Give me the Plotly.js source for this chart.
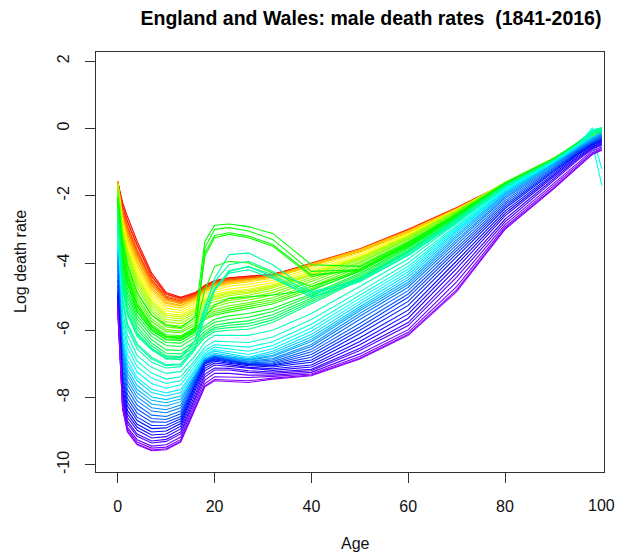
<!DOCTYPE html>
<html>
<head>
<meta charset="utf-8">
<script src="https://cdn.plot.ly/plotly-3.0.1.min.js"></script>
<style>html,body{margin:0;padding:0;background:#fff;}#chart{width:619px;height:555px;}</style>
</head>
<body>
<div id="chart"></div>
<script>
const ages = [0,1,2,4,7,10,13,16,18,20,23,27,32,40,50,60,70,80,90,95,98,100];

// Years drawn (subset of 1841-2016, incl. war years)
const years = [1841,1844,1847,1850,1853,1856,1859,1862,1865,1868,1871,1874,1877,1880,1883,1886,
  1889,1892,1895,1898,1901,1904,1907,1910,1913,1914,1915,1916,1917,1918,1919,1922,1925,1928,
  1931,1934,1937,1940,1941,1942,1943,1944,1946,1949,1952,1955,1958,1961,1964,1967,1970,1973,
  1976,1979,1982,1985,1988,1991,1994,1997,2000,2003,2006,2009,2012,2015,2016];

// Log death rates (one row per year, one value per age)
const logRates = [
 [-1.60,-2.20,-2.62,-3.35,-4.30,-4.88,-5.02,-4.88,-4.66,-4.52,-4.44,-4.40,-4.33,-4.05,-3.62,-3.05,-2.38,-1.68,-1.02,-0.66,-0.42,-0.38],
 [-1.63,-2.32,-2.78,-3.48,-4.40,-4.93,-5.06,-4.90,-4.69,-4.54,-4.45,-4.41,-4.34,-4.03,-3.61,-3.03,-2.38,-1.66,-1.00,-0.63,-0.37,-0.33],
 [-1.57,-2.30,-2.75,-3.45,-4.38,-4.92,-5.05,-4.93,-4.72,-4.57,-4.47,-4.43,-4.36,-4.00,-3.58,-3.00,-2.35,-1.64,-0.97,-0.60,-0.34,-0.29],
 [-1.64,-2.48,-2.95,-3.66,-4.52,-5.02,-5.13,-4.96,-4.73,-4.59,-4.49,-4.46,-4.39,-4.08,-3.66,-3.08,-2.42,-1.70,-1.04,-0.68,-0.40,-0.34],
 [-1.61,-2.45,-2.90,-3.60,-4.48,-4.98,-5.10,-4.94,-4.71,-4.57,-4.47,-4.44,-4.36,-4.05,-3.62,-3.05,-2.40,-1.68,-1.02,-0.65,-0.38,-0.30],
 [-1.66,-2.58,-3.05,-3.75,-4.58,-5.05,-5.15,-4.98,-4.74,-4.60,-4.50,-4.45,-4.36,-4.04,-3.63,-3.08,-2.42,-1.71,-1.04,-0.65,-0.40,-0.28],
 [-1.62,-2.55,-3.02,-3.72,-4.56,-5.06,-5.17,-5.00,-4.77,-4.63,-4.53,-4.48,-4.39,-4.06,-3.64,-3.07,-2.41,-1.70,-1.02,-0.63,-0.36,-0.27],
 [-1.63,-2.64,-3.13,-3.83,-4.64,-5.10,-5.20,-5.02,-4.78,-4.64,-4.54,-4.48,-4.39,-4.04,-3.61,-3.05,-2.40,-1.68,-1.00,-0.61,-0.33,-0.25],
 [-1.59,-2.58,-3.10,-3.84,-4.67,-5.11,-5.21,-5.03,-4.79,-4.65,-4.55,-4.48,-4.40,-4.03,-3.60,-3.04,-2.39,-1.67,-0.99,-0.59,-0.31,-0.23],
 [-1.63,-2.66,-3.20,-3.93,-4.74,-5.17,-5.26,-5.06,-4.82,-4.68,-4.58,-4.50,-4.41,-4.04,-3.61,-3.05,-2.40,-1.66,-0.97,-0.57,-0.29,-0.21],
 [-1.62,-2.70,-3.25,-3.98,-4.78,-5.20,-5.28,-5.08,-4.84,-4.70,-4.60,-4.52,-4.42,-4.05,-3.62,-3.05,-2.39,-1.65,-0.96,-0.56,-0.28,-0.20],
 [-1.66,-2.76,-3.33,-4.06,-4.85,-5.26,-5.34,-5.12,-4.87,-4.74,-4.63,-4.56,-4.45,-4.09,-3.65,-3.08,-2.41,-1.66,-0.96,-0.56,-0.29,-0.20],
 [-1.69,-2.83,-3.42,-4.16,-4.94,-5.34,-5.41,-5.18,-4.93,-4.81,-4.69,-4.63,-4.51,-4.15,-3.70,-3.12,-2.43,-1.66,-0.95,-0.56,-0.30,-0.19],
 [-1.71,-2.90,-3.50,-4.25,-5.02,-5.42,-5.48,-5.25,-5.00,-4.87,-4.77,-4.71,-4.58,-4.22,-3.76,-3.15,-2.42,-1.62,-0.90,-0.51,-0.27,-0.18],
 [-1.73,-2.95,-3.56,-4.33,-5.10,-5.50,-5.55,-5.33,-5.06,-4.94,-4.84,-4.78,-4.64,-4.28,-3.81,-3.18,-2.44,-1.63,-0.91,-0.50,-0.26,-0.16],
 [-1.70,-2.95,-3.58,-4.38,-5.15,-5.55,-5.60,-5.38,-5.10,-4.98,-4.88,-4.82,-4.68,-4.32,-3.84,-3.20,-2.45,-1.63,-0.92,-0.50,-0.25,-0.15],
 [-1.69,-2.97,-3.62,-4.45,-5.21,-5.61,-5.66,-5.42,-5.15,-5.02,-4.92,-4.86,-4.70,-4.34,-3.85,-3.20,-2.43,-1.61,-0.89,-0.49,-0.23,-0.13],
 [-1.68,-3.00,-3.68,-4.53,-5.28,-5.68,-5.72,-5.48,-5.20,-5.08,-4.97,-4.90,-4.74,-4.37,-3.87,-3.21,-2.43,-1.61,-0.88,-0.48,-0.22,-0.12],
 [-1.70,-3.06,-3.76,-4.62,-5.37,-5.75,-5.80,-5.55,-5.27,-5.15,-5.04,-4.96,-4.80,-4.43,-3.91,-3.24,-2.45,-1.62,-0.90,-0.48,-0.22,-0.10],
 [-1.72,-3.14,-3.85,-4.72,-5.45,-5.83,-5.87,-5.63,-5.35,-5.23,-5.11,-5.03,-4.88,-4.49,-3.96,-3.27,-2.48,-1.62,-0.91,-0.49,-0.22,-0.10],
 [-1.78,-3.25,-3.98,-4.85,-5.55,-5.90,-5.95,-5.70,-5.42,-5.30,-5.18,-5.10,-4.95,-4.55,-4.00,-3.30,-2.50,-1.63,-0.92,-0.50,-0.22,-0.10],
 [-1.88,-3.38,-4.12,-5.00,-5.66,-5.98,-6.02,-5.78,-5.50,-5.38,-5.27,-5.18,-5.03,-4.63,-4.06,-3.35,-2.53,-1.65,-0.94,-0.50,-0.21,-0.09],
 [-1.97,-3.47,-4.22,-5.10,-5.74,-6.04,-6.07,-5.84,-5.57,-5.44,-5.34,-5.24,-5.10,-4.70,-4.12,-3.39,-2.56,-1.66,-0.95,-0.50,-0.20,-0.08],
 [-2.03,-3.53,-4.32,-5.20,-5.83,-6.13,-6.16,-5.93,-5.63,-5.50,-5.40,-5.30,-5.16,-4.76,-4.18,-3.41,-2.57,-1.66,-0.95,-0.48,-0.18,-0.06],
 [-2.08,-3.60,-4.40,-5.26,-5.88,-6.18,-6.20,-5.96,-5.68,-5.55,-5.46,-5.36,-5.22,-4.82,-4.22,-3.44,-2.59,-1.66,-0.95,-0.47,-0.16,-0.05],
 [-2.15,-3.65,-4.45,-5.30,-5.90,-6.20,-6.22,-5.98,-4.80,-4.10,-3.95,-4.00,-4.30,-4.70,-4.22,-3.45,-2.60,-1.66,-0.94,-0.46,-0.15,-0.05],
 [-2.10,-3.50,-4.35,-5.25,-5.88,-6.18,-6.20,-5.90,-3.80,-3.25,-3.15,-3.25,-3.50,-4.40,-4.18,-3.42,-2.56,-1.62,-0.90,-0.44,-0.12,-0.04],
 [-2.20,-3.75,-4.55,-5.38,-5.95,-6.22,-6.25,-6.00,-3.55,-3.00,-2.95,-3.05,-3.30,-4.25,-4.20,-3.48,-2.62,-1.66,-0.92,-0.45,-0.10,-0.02],
 [-2.25,-3.80,-4.60,-5.45,-6.00,-6.28,-6.30,-6.05,-3.70,-3.18,-3.10,-3.20,-3.45,-4.35,-4.22,-3.50,-2.64,-1.68,-0.94,-0.44,-0.12,-0.04],
 [-2.08,-3.35,-4.05,-4.90,-5.55,-5.85,-5.92,-5.60,-3.35,-2.88,-2.84,-2.92,-3.12,-4.05,-4.10,-3.38,-2.55,-1.62,-0.90,-0.42,-0.08,0.00],
 [-2.22,-3.85,-4.62,-5.45,-6.00,-6.28,-6.30,-6.05,-5.60,-5.25,-5.05,-5.00,-4.95,-4.80,-4.25,-3.48,-2.60,-1.65,-0.92,-0.45,-0.13,-0.04],
 [-2.33,-3.98,-4.76,-5.56,-6.08,-6.36,-6.38,-6.12,-5.86,-5.67,-5.57,-5.50,-5.35,-4.92,-4.31,-3.53,-2.62,-1.66,-0.92,-0.45,-0.14,-0.04],
 [-2.42,-4.10,-4.90,-5.66,-6.18,-6.45,-6.48,-6.21,-5.94,-5.76,-5.68,-5.61,-5.44,-4.98,-4.36,-3.56,-2.63,-1.67,-0.92,-0.44,-0.12,-0.02],
 [-2.50,-4.22,-5.02,-5.77,-6.28,-6.58,-6.60,-6.32,-6.03,-5.85,-5.78,-5.72,-5.54,-5.05,-4.41,-3.61,-2.66,-1.69,-0.93,-0.45,-0.11,-0.01],
 [-2.58,-4.35,-5.15,-5.88,-6.38,-6.68,-6.70,-6.40,-6.10,-5.92,-5.85,-5.80,-5.62,-5.10,-4.45,-3.64,-2.68,-1.70,-0.94,-0.45,-0.10,0.00],
 [-2.65,-4.46,-5.28,-5.97,-6.46,-6.76,-6.78,-6.47,-6.15,-5.97,-5.92,-5.88,-5.69,-5.16,-4.48,-3.66,-2.70,-1.71,-0.95,-0.46,-0.08,0.01],
 [-2.72,-4.58,-5.40,-6.07,-6.53,-6.84,-6.87,-6.54,-6.22,-6.04,-6.00,-5.97,-5.77,-5.22,-4.51,-3.69,-2.73,-1.72,-0.95,-0.46,-0.05,0.02],
 [-2.75,-4.70,-5.48,-6.12,-6.55,-6.80,-6.80,-6.30,-5.40,-4.75,-4.25,-4.10,-4.35,-4.95,-4.45,-3.68,-2.70,-1.70,-0.95,-0.48,-0.10,-0.02],
 [-2.80,-4.80,-5.55,-6.18,-6.58,-6.85,-6.82,-6.28,-5.30,-4.55,-4.05,-3.95,-4.25,-4.90,-4.48,-3.70,-2.72,-1.72,-0.96,-0.50,-0.60,-0.05],
 [-2.95,-5.05,-5.80,-6.40,-6.80,-7.02,-7.00,-6.50,-5.55,-4.80,-4.30,-4.20,-4.45,-5.00,-4.55,-3.75,-2.76,-1.74,-0.98,-0.52,-0.08,0.02],
 [-3.00,-5.10,-5.85,-6.45,-6.85,-7.05,-7.02,-6.52,-5.60,-4.82,-4.22,-4.12,-4.40,-5.02,-4.56,-3.76,-2.78,-1.75,-0.98,-0.50,-0.12,0.00],
 [-3.05,-5.20,-5.95,-6.55,-6.95,-7.12,-7.08,-6.58,-5.35,-4.45,-3.75,-3.70,-4.05,-4.85,-4.55,-3.78,-2.80,-1.76,-1.00,-0.52,-0.15,-0.02],
 [-3.20,-5.45,-6.15,-6.75,-7.10,-7.28,-7.22,-6.75,-6.35,-6.15,-6.15,-6.15,-6.00,-5.50,-4.70,-3.88,-2.82,-1.76,-0.98,-0.50,-0.30,-0.05],
 [-3.35,-5.65,-6.35,-6.92,-7.27,-7.45,-7.38,-6.88,-6.50,-6.32,-6.34,-6.36,-6.20,-5.68,-4.85,-4.00,-2.88,-1.79,-1.00,-0.52,-0.35,-0.06],
 [-3.44,-5.80,-6.52,-7.08,-7.42,-7.58,-7.50,-6.98,-6.60,-6.43,-6.46,-6.50,-6.34,-5.82,-4.96,-4.10,-2.93,-1.82,-1.01,-0.53,-0.40,-1.70],
 [-3.49,-6.00,-6.72,-7.24,-7.58,-7.72,-7.62,-7.07,-6.68,-6.50,-6.56,-6.62,-6.45,-5.93,-5.05,-4.18,-2.97,-1.84,-1.02,-0.55,0.02,-0.60],
 [-3.56,-6.18,-6.90,-7.40,-7.75,-7.86,-7.76,-7.16,-6.74,-6.57,-6.64,-6.72,-6.55,-6.03,-5.14,-4.26,-3.02,-1.86,-1.03,-0.56,-0.20,-1.20],
 [-3.62,-6.30,-7.02,-7.50,-7.85,-7.95,-7.85,-7.22,-6.78,-6.62,-6.70,-6.80,-6.62,-6.12,-5.22,-4.34,-3.06,-1.88,-1.04,-0.56,-0.25,-0.30],
 [-3.70,-6.40,-7.15,-7.64,-7.98,-8.06,-7.95,-7.27,-6.83,-6.68,-6.75,-6.84,-6.68,-6.20,-5.30,-4.42,-3.12,-1.92,-1.05,-0.57,-0.28,-0.08],
 [-3.77,-6.49,-7.26,-7.76,-8.08,-8.15,-8.04,-7.31,-6.86,-6.73,-6.79,-6.87,-6.74,-6.27,-5.36,-4.50,-3.18,-1.95,-1.07,-0.59,-0.30,-0.12],
 [-3.83,-6.58,-7.37,-7.87,-8.19,-8.25,-8.12,-7.34,-6.88,-6.75,-6.81,-6.89,-6.78,-6.33,-5.42,-4.57,-3.24,-1.99,-1.09,-0.60,-0.32,-0.16],
 [-3.94,-6.72,-7.50,-7.98,-8.30,-8.36,-8.22,-7.38,-6.89,-6.77,-6.83,-6.92,-6.84,-6.42,-5.50,-4.64,-3.31,-2.04,-1.12,-0.62,-0.35,-0.19],
 [-4.05,-6.85,-7.62,-8.10,-8.40,-8.45,-8.30,-7.40,-6.90,-6.78,-6.85,-6.94,-6.88,-6.48,-5.58,-4.72,-3.38,-2.08,-1.15,-0.64,-0.38,-0.20],
 [-4.20,-7.00,-7.76,-8.22,-8.52,-8.56,-8.40,-7.45,-6.91,-6.79,-6.87,-6.97,-6.93,-6.56,-5.68,-4.82,-3.46,-2.14,-1.18,-0.66,-0.40,-0.23],
 [-4.35,-7.15,-7.90,-8.34,-8.62,-8.65,-8.48,-7.50,-6.93,-6.81,-6.89,-6.99,-6.97,-6.64,-5.80,-4.92,-3.55,-2.20,-1.21,-0.69,-0.43,-0.26],
 [-4.50,-7.30,-8.02,-8.46,-8.72,-8.73,-8.56,-7.54,-6.95,-6.82,-6.90,-7.00,-7.00,-6.72,-5.90,-5.02,-3.63,-2.26,-1.24,-0.71,-0.44,-0.29],
 [-4.65,-7.44,-8.14,-8.58,-8.83,-8.82,-8.63,-7.58,-6.97,-6.85,-6.92,-7.01,-7.03,-6.80,-6.00,-5.14,-3.72,-2.32,-1.27,-0.74,-0.46,-0.32],
 [-4.80,-7.55,-8.25,-8.68,-8.92,-8.90,-8.70,-7.62,-7.00,-6.88,-6.95,-7.02,-7.05,-6.88,-6.10,-5.26,-3.82,-2.38,-1.30,-0.76,-0.48,-0.35],
 [-4.90,-7.70,-8.38,-8.79,-9.02,-8.99,-8.77,-7.70,-7.06,-6.92,-6.98,-7.05,-7.09,-6.95,-6.22,-5.40,-3.94,-2.46,-1.35,-0.79,-0.50,-0.38],
 [-4.98,-7.82,-8.49,-8.88,-9.11,-9.08,-8.85,-7.78,-7.13,-6.97,-7.02,-7.10,-7.14,-7.03,-6.33,-5.52,-4.05,-2.53,-1.40,-0.84,-0.54,-0.41],
 [-5.07,-7.92,-8.59,-8.97,-9.20,-9.16,-8.93,-7.86,-7.20,-7.03,-7.07,-7.14,-7.19,-7.09,-6.43,-5.64,-4.17,-2.60,-1.44,-0.87,-0.57,-0.44],
 [-5.16,-8.02,-8.70,-9.08,-9.29,-9.24,-9.02,-7.96,-7.30,-7.12,-7.13,-7.20,-7.24,-7.16,-6.53,-5.77,-4.30,-2.70,-1.50,-0.91,-0.60,-0.47],
 [-5.22,-8.10,-8.78,-9.15,-9.35,-9.30,-9.08,-8.05,-7.38,-7.18,-7.18,-7.25,-7.28,-7.20,-6.60,-5.86,-4.42,-2.78,-1.55,-0.95,-0.62,-0.50],
 [-5.30,-8.20,-8.88,-9.25,-9.44,-9.40,-9.17,-8.16,-7.48,-7.28,-7.28,-7.33,-7.33,-7.25,-6.70,-5.98,-4.56,-2.86,-1.63,-1.01,-0.67,-0.55],
 [-5.37,-8.27,-8.94,-9.32,-9.50,-9.47,-9.25,-8.25,-7.58,-7.38,-7.38,-7.40,-7.37,-7.30,-6.78,-6.06,-4.70,-2.93,-1.71,-1.08,-0.72,-0.60],
 [-5.42,-8.32,-9.00,-9.38,-9.56,-9.52,-9.30,-8.30,-7.65,-7.46,-7.48,-7.50,-7.42,-7.33,-6.83,-6.12,-4.80,-2.98,-1.77,-1.12,-0.76,-0.63],
 [-5.45,-8.35,-9.02,-9.40,-9.58,-9.55,-9.32,-8.32,-7.68,-7.50,-7.52,-7.55,-7.45,-7.35,-6.85,-6.15,-4.85,-3.00,-1.80,-1.15,-0.78,-0.65]
];

const xTicks = [0, 20, 40, 60, 80];
const yTicks = [-10, -8, -6, -4, -2, 0, 2];
const yTickText = ['-10', '-8', '-6', '-4', '-2', '0', '2'];
const firstYear = 1841, lastYear = 2016;

const FONT = 'Liberation Sans, Arial, Helvetica, sans-serif';

function rainbowColor(year) {
  const h = (year - firstYear) / (lastYear - firstYear) * 0.76 * 360;
  return 'hsl(' + h.toFixed(1) + ',100%,50%)';
}

const traces = years.map((yr, i) => ({
  type: 'scatter',
  mode: 'lines',
  x: ages,
  y: logRates[i],
  name: String(yr),
  line: {color: rainbowColor(yr), width: 1.1},
  hoverinfo: 'skip',
  showlegend: false
}));

const L = 96, R = 15, T = 52, B = 83;
const plotW = 619 - L - R, plotH = 555 - T - B;

const layout = {
  width: 619,
  height: 555,
  margin: {l: L, r: R, t: T, b: B},
  paper_bgcolor: '#ffffff',
  plot_bgcolor: '#ffffff',
  font: {family: FONT, color: '#000', size: 16},
  title: {
    text: '<b>England and Wales: male death rates  (1841-2016)</b>',
    x: 371 / 619, xanchor: 'center', xref: 'container',
    y: 1 - 18 / 555, yanchor: 'middle', yref: 'container',
    font: {family: FONT, size: 19.5, color: '#000'}
  },
  xaxis: {
    range: [-4.5, 100.45],
    tickvals: xTicks,
    ticks: 'outside', ticklen: 10, tickcolor: '#333', tickwidth: 1,
    showline: true, mirror: true, linecolor: '#333', linewidth: 1,
    showgrid: false, zeroline: false,
    tickfont: {family: FONT, size: 16, color: '#111'},
    ticklabelstandoff: 10
  },
  yaxis: {
    range: [-10.21, 2.27],
    tickvals: yTicks,
    ticktext: yTickText,
    tickangle: -90,
    ticks: 'outside', ticklen: 10, tickcolor: '#333', tickwidth: 1,
    showline: true, mirror: true, linecolor: '#333', linewidth: 1,
    showgrid: false, zeroline: false,
    tickfont: {family: FONT, size: 16, color: '#111'},
    ticklabelstandoff: 10
  },
  annotations: [
    {text: '100', x: 100, xref: 'x', y: 1 - (505 - T) / plotH, yref: 'paper', showarrow: false,
     font: {family: FONT, size: 16, color: '#111'}, xanchor: 'center', yanchor: 'middle'},
    {text: 'Age', x: (355 - L) / plotW, xref: 'paper', y: 1 - (543 - T) / plotH, yref: 'paper', showarrow: false,
     font: {family: FONT, size: 16, color: '#111'}, xanchor: 'center', yanchor: 'middle'},
    {text: 'Log death rate', x: (20 - L) / plotW, xref: 'paper', y: 1 - (262 - T) / plotH, yref: 'paper',
     showarrow: false, textangle: -90,
     font: {family: FONT, size: 16, color: '#111'}, xanchor: 'center', yanchor: 'middle'}
  ]
};

Plotly.newPlot('chart', traces, layout, {displayModeBar: false, staticPlot: true});
</script>
</body>
</html>
